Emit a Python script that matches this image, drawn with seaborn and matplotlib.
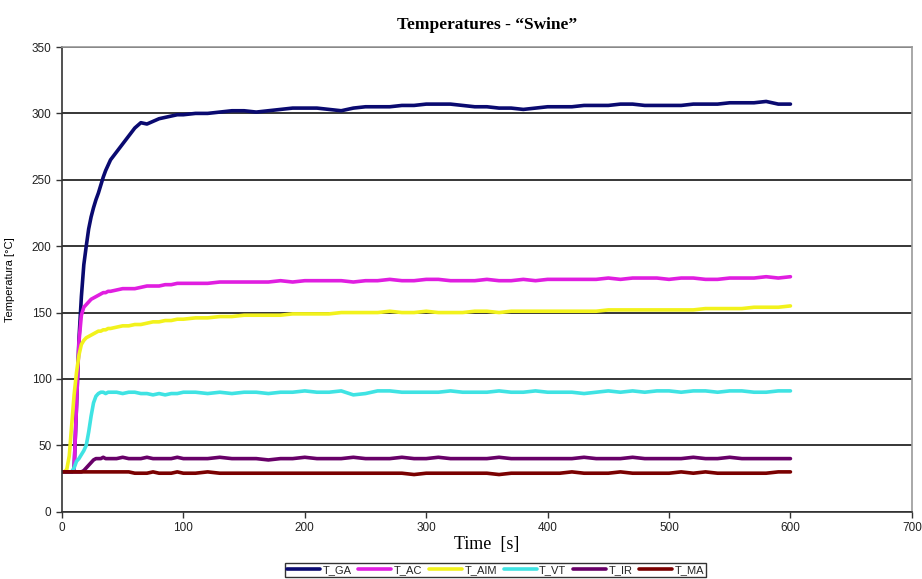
import matplotlib
matplotlib.use("Agg")
import matplotlib.pyplot as plt
import pandas as pd
import seaborn as sns

# sampling times [s]
tiempo = [0, 2, 4, 6, 8, 10, 12, 14, 16, 18, 20, 22, 24, 26, 28, 30, 32, 34, 36, 38, 40,
          45, 50, 55, 60, 65, 70, 75, 80, 85, 90, 95, 100,
          110, 120, 130, 140, 150, 160, 170, 180, 190, 200,
          210, 220, 230, 240, 250, 260, 270, 280, 290, 300,
          310, 320, 330, 340, 350, 360, 370, 380, 390, 400,
          410, 420, 430, 440, 450, 460, 470, 480, 490, 500,
          510, 520, 530, 540, 550, 560, 570, 580, 590, 600]

t_ga = [30, 30, 30, 30, 30, 32, 80, 130, 162, 186, 200, 213, 222, 229, 235, 240, 246, 252, 257, 261, 265,
        271, 277, 283, 289, 293, 292, 294, 296, 297, 298, 299, 299,
        300, 300, 301, 302, 302, 301, 302, 303, 304, 304,
        304, 303, 302, 304, 305, 305, 305, 306, 306, 307,
        307, 307, 306, 305, 305, 304, 304, 303, 304, 305,
        305, 305, 306, 306, 306, 307, 307, 306, 306, 306,
        306, 307, 307, 307, 308, 308, 308, 309, 307, 307]

t_ac = [30, 30, 30, 30, 30, 32, 80, 128, 148, 154, 156, 158, 160, 161, 162, 163, 164, 165, 165, 166, 166,
        167, 168, 168, 168, 169, 170, 170, 170, 171, 171, 172, 172,
        172, 172, 173, 173, 173, 173, 173, 174, 173, 174,
        174, 174, 174, 173, 174, 174, 175, 174, 174, 175,
        175, 174, 174, 174, 175, 174, 174, 175, 174, 175,
        175, 175, 175, 175, 176, 175, 176, 176, 176, 175,
        176, 176, 175, 175, 176, 176, 176, 177, 176, 177]

t_aim = [30, 30, 32, 42, 65, 88, 105, 118, 126, 129, 131, 132, 133, 134, 135, 136, 136, 137, 137, 138, 138,
         139, 140, 140, 141, 141, 142, 143, 143, 144, 144, 145, 145,
         146, 146, 147, 147, 148, 148, 148, 148, 149, 149,
         149, 149, 150, 150, 150, 150, 151, 150, 150, 151,
         150, 150, 150, 151, 151, 150, 151, 151, 151, 151,
         151, 151, 151, 151, 152, 152, 152, 152, 152, 152,
         152, 152, 153, 153, 153, 153, 154, 154, 154, 155]

t_vt = [30, 30, 30, 30, 30, 33, 38, 40, 43, 46, 50, 60, 72, 82, 87, 89, 90, 90, 89, 90, 90,
        90, 89, 90, 90, 89, 89, 88, 89, 88, 89, 89, 90,
        90, 89, 90, 89, 90, 90, 89, 90, 90, 91,
        90, 90, 91, 88, 89, 91, 91, 90, 90, 90,
        90, 91, 90, 90, 90, 91, 90, 90, 91, 90,
        90, 90, 89, 90, 91, 90, 91, 90, 91, 91,
        90, 91, 91, 90, 91, 91, 90, 90, 91, 91]

t_ir = [30, 30, 30, 30, 30, 30, 30, 30, 30, 31, 33, 35, 37, 39, 40, 40, 40, 41, 40, 40, 40,
        40, 41, 40, 40, 40, 41, 40, 40, 40, 40, 41, 40,
        40, 40, 41, 40, 40, 40, 39, 40, 40, 41,
        40, 40, 40, 41, 40, 40, 40, 41, 40, 40,
        41, 40, 40, 40, 40, 41, 40, 40, 40, 40,
        40, 40, 41, 40, 40, 40, 41, 40, 40, 40,
        40, 41, 40, 40, 41, 40, 40, 40, 40, 40]

t_ma = [30, 30, 30, 30, 30, 30, 30, 30, 30, 30, 30, 30, 30, 30, 30, 30, 30, 30, 30, 30, 30,
        30, 30, 30, 29, 29, 29, 30, 29, 29, 29, 30, 29,
        29, 30, 29, 29, 29, 29, 29, 29, 29, 29,
        29, 29, 29, 29, 29, 29, 29, 29, 28, 29,
        29, 29, 29, 29, 29, 28, 29, 29, 29, 29,
        29, 30, 29, 29, 29, 30, 29, 29, 29, 29,
        30, 29, 30, 29, 29, 29, 29, 29, 30, 30]

series = ["T_GA", "T_AC", "T_AIM", "T_VT", "T_IR", "T_MA"]
colores = {"T_GA": "#0a0a70", "T_AC": "#e01ee0", "T_AIM": "#f2f21c",
           "T_VT": "#3fe3e3", "T_IR": "#680068", "T_MA": "#7a0000"}

df = pd.concat([
    pd.DataFrame({"Time": tiempo, "Temp": vals, "Serie": nombre})
    for nombre, vals in zip(series, [t_ga, t_ac, t_aim, t_vt, t_ir, t_ma])
])

sns.set_style("white")
plt.rcParams["font.family"] = ["Liberation Sans", "DejaVu Sans"]

fig = plt.figure(figsize=(9.22, 5.79), dpi=100)
ax = fig.add_axes([0.0672, 0.1162, 0.9218, 0.8026])

sns.lineplot(data=df, x="Time", y="Temp", hue="Serie", hue_order=series,
             palette=colores, linewidth=2.6, ax=ax, legend=False)

ax.set_xlim(0, 700)
ax.set_ylim(0, 350)
ax.set_xticks(range(0, 701, 100))
ax.set_yticks(range(0, 351, 50))
ax.yaxis.grid(True, color="black", linewidth=1.1)
ax.set_axisbelow(True)
for lado in ["top", "right"]:
    ax.spines[lado].set_color("#999999")
    ax.spines[lado].set_linewidth(1.2)
for lado in ["left", "bottom"]:
    ax.spines[lado].set_color("#333333")
    ax.spines[lado].set_linewidth(1.2)
ax.tick_params(axis="both", direction="out", length=4, width=1, color="#333333",
               labelsize=8.5, labelcolor="#222222", bottom=True, left=True)

ax.set_title("Temperatures - \u201cSwine\u201d", family="Liberation Serif",
             fontweight="bold", fontsize=12.5, pad=13, color="black")
ax.set_xlabel("Time  [s]", family="Liberation Serif", fontsize=13, labelpad=1,
              color="black")
ax.set_ylabel("Temperatura [\u00b0C]", fontsize=8, labelpad=12, color="black")

handles = [plt.Line2D([], [], color=colores[s], linewidth=2.6) for s in series]
leg = fig.legend(handles, series, loc="center", bbox_to_anchor=(0.5375, 0.0155),
                 ncol=6, frameon=True, fancybox=False, fontsize=8,
                 handlelength=3.0, handletextpad=0.2, columnspacing=0.6,
                 borderpad=0.15, edgecolor="black")
leg.get_frame().set_linewidth(1.0)

fig.savefig("out.png", dpi=100)
